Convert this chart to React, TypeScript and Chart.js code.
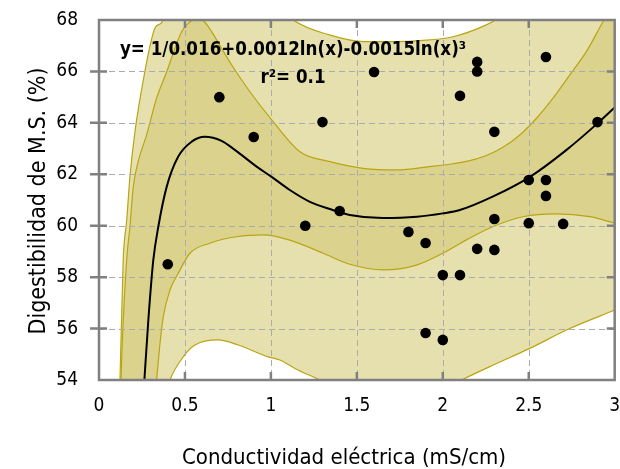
import React, { useEffect, useRef } from "react";
import { Chart, registerables } from "chart.js";

Chart.register(...registerables);

const FONT = "'Liberation Sans Narrow', 'DejaVu Sans Condensed', 'Open Sans', sans-serif";

// Observations: conductividad eléctrica (mS/cm) vs digestibilidad (%)
const pointsX = [0.4, 0.7, 0.9, 1.2, 1.3, 1.4, 1.6, 1.8, 1.9, 1.9, 2.0, 2.0, 2.1, 2.1, 2.2, 2.2, 2.2, 2.3, 2.3, 2.3, 2.5, 2.5, 2.6, 2.6, 2.6, 2.7, 2.9];
const pointsY = [58.5, 65.0, 63.45, 60.0, 64.03, 60.57, 65.98, 59.76, 59.33, 55.83, 55.56, 58.08, 58.08, 65.05, 66.37, 66.0, 59.1, 63.65, 60.26, 59.06, 61.78, 60.1, 66.56, 61.78, 61.16, 60.07, 64.03];

// Fitted curve
const curveX = [0.25, 0.264, 0.287, 0.316, 0.345, 0.394, 0.461, 0.539, 0.616, 0.713, 0.79, 0.917, 1.004, 1.11, 1.227, 1.343, 1.459, 1.65, 1.85, 2.0, 2.099, 2.29, 2.507, 2.72, 2.9, 3.0];
const curveY = [52.5, 54, 56.33, 58.67, 59.96, 61.52, 62.69, 63.27, 63.46, 63.3, 62.95, 62.3, 61.9, 61.39, 60.93, 60.65, 60.42, 60.3, 60.35, 60.48, 60.61, 61.13, 61.9, 62.95, 63.98, 64.6];

// Confidence band (inner)
const innerUpperX = [0.1, 0.128, 0.161, 0.18, 0.199, 0.228, 0.277, 0.335, 0.394, 0.442, 0.481, 0.519, 0.564, 0.61, 0.655, 0.713, 0.772, 0.878, 1.013, 1.169, 1.343, 1.537, 1.731, 1.924, 2.05, 2.15, 2.25, 2.35, 2.448, 2.545, 2.641, 2.738, 2.835, 2.932, 3.0];
const innerUpperY = [45, 54, 58.67, 59.96, 61.5, 62.5, 63.53, 64.96, 65.99, 66.9, 67.55, 67.87, 68.05, 67.95, 67.55, 66.9, 66.25, 65.21, 64.05, 62.88, 62.49, 62.23, 62.17, 62.3, 62.4, 62.52, 62.72, 63.05, 63.53, 64.18, 64.96, 65.86, 66.77, 67.93, 68.7];
const innerLowerX = [0.1, 0.2, 0.3, 0.335, 0.355, 0.374, 0.413, 0.461, 0.529, 0.645, 0.8, 0.955, 1.11, 1.304, 1.459, 1.653, 1.847, 2.0, 2.138, 2.29, 2.467, 2.66, 2.855, 3.0];
const innerLowerY = [30, 44, 52, 54, 55.43, 56.46, 57.5, 58.15, 58.93, 59.32, 59.57, 59.64, 59.44, 58.93, 58.5, 58.28, 58.47, 58.93, 59.45, 59.96, 60.35, 60.46, 60.35, 60.1];

// Prediction band (outer)
const outerUpperX = [0.1, 0.122, 0.141, 0.161, 0.18, 0.21, 0.267, 0.297, 0.326, 0.365, 0.4, 0.55, 0.75, 0.95, 1.13, 1.34, 1.54, 1.73, 1.87, 2.06, 2.25, 2.33, 2.6, 3.0];
const outerUpperY = [50, 54, 58.7, 60.2, 61.9, 63.7, 66.0, 67.0, 67.7, 67.9, 68.5, 70, 70, 69.2, 68.0, 67.42, 67.16, 67.16, 67.2, 67.35, 67.8, 68.1, 69.5, 72];
const outerLowerX = [0.1, 0.25, 0.35, 0.413, 0.49, 0.558, 0.694, 0.81, 0.984, 1.052, 1.14, 1.275, 1.5, 1.7, 1.9, 2.118, 2.3, 2.506, 2.738, 3.0];
const outerLowerY = [30, 47, 52.5, 54, 54.9, 55.36, 55.56, 55.36, 54.9, 54.78, 54.45, 54.03, 53.3, 53.0, 53.3, 54.03, 54.6, 55.23, 56.0, 56.72];

const xTicks = [0, 0.5, 1, 1.5, 2, 2.5, 3];
const yTicks = [54, 56, 58, 60, 62, 64, 66, 68];

const xTitle = "Conductividad eléctrica (mS/cm)";
const yTitle = "Digestibilidad de M.S. (%)";
const equation = "y= 1/0.016+0.0012ln(x)-0.0015ln(x)³";
const rSquared = "r²= 0.1";

const zip = (xs: number[], ys: number[]) => xs.map((x, i) => ({ x, y: ys[i] }));

export default function App() {
  const ref = useRef<HTMLCanvasElement>(null);
  useEffect(() => {
    const canvas = ref.current!;
    const LIGHT = "#e6e0ae";
    const DARK = "#dbd28e";
    const EDGE = "#b9a510";
    const FRAME = "#808080";

    const custom = {
      id: "custom",
      beforeDatasetDraw(chart: any, args: any) {
        if (args.index !== 1) return;
        const { ctx, chartArea: a, scales } = chart;
        ctx.save();
        ctx.strokeStyle = "#ababab";
        ctx.lineWidth = 1;
        ctx.setLineDash([6, 4]);
        xTicks.slice(1, -1).forEach((v) => {
          const px = Math.round(scales.x.getPixelForValue(v)) + 0.5;
          ctx.beginPath();
          ctx.moveTo(px, a.top);
          ctx.lineTo(px, a.bottom);
          ctx.stroke();
        });
        yTicks.slice(1, -1).forEach((v) => {
          const py = Math.round(scales.y.getPixelForValue(v)) + 0.5;
          ctx.beginPath();
          ctx.moveTo(a.left, py);
          ctx.lineTo(a.right, py);
          ctx.stroke();
        });
        ctx.restore();
      },
      afterDraw(chart: any) {
        const { ctx, chartArea: a, scales } = chart;
        ctx.save();
        ctx.strokeStyle = FRAME;
        ctx.lineWidth = 2.5;
        ctx.setLineDash([]);
        ctx.strokeRect(a.left, a.top, a.right - a.left, a.bottom - a.top);
        xTicks.slice(1, -1).forEach((v) => {
          const px = scales.x.getPixelForValue(v);
          ctx.beginPath();
          ctx.moveTo(px, a.bottom);
          ctx.lineTo(px, a.bottom - 8);
          ctx.moveTo(px, a.top);
          ctx.lineTo(px, a.top + 8);
          ctx.stroke();
        });
        yTicks.slice(1, -1).forEach((v) => {
          const py = scales.y.getPixelForValue(v);
          ctx.beginPath();
          ctx.moveTo(a.left - 9, py);
          ctx.lineTo(a.left + 8, py);
          ctx.moveTo(a.right, py);
          ctx.lineTo(a.right - 8, py);
          ctx.stroke();
        });
        // titles
        ctx.fillStyle = "#000";
        ctx.textAlign = "center";
        ctx.textBaseline = "middle";
        ctx.font = `22px ${FONT}`;
        ctx.fillText(xTitle, 344, 458);
        ctx.font = `23px ${FONT}`;
        ctx.save();
        ctx.translate(39, 201);
        ctx.rotate(-Math.PI / 2);
        ctx.fillText(yTitle, 0, 0);
        ctx.restore();
        // equation
        ctx.font = `bold 18.6px ${FONT}`;
        ctx.fillText(equation, 293, 50);
        ctx.fillText(rSquared, 293, 78);
        ctx.restore();
      },
    };

    const edgeCommon = {
      borderColor: EDGE,
      borderWidth: 1.2,
      pointRadius: 0,
      cubicInterpolationMode: "monotone" as const,
      clip: 0,
    };

    const chart = new Chart(canvas, {
      type: "line",
      data: {
        datasets: [
          {
            data: zip(pointsX, pointsY),
            showLine: false,
            pointRadius: 5.3,
            pointBackgroundColor: "#000",
            pointBorderColor: "#000",
            pointBorderWidth: 0,
            order: 0,
            clip: 0,
          },
          {
            data: zip(curveX, curveY),
            borderColor: "#000",
            borderWidth: 2,
            pointRadius: 0,
            cubicInterpolationMode: "monotone",
            fill: false,
            order: 1,
            clip: 0,
          },
          { ...edgeCommon, data: zip(innerUpperX, innerUpperY), fill: 3, backgroundColor: DARK, order: 3 },
          { ...edgeCommon, data: zip(innerLowerX, innerLowerY), fill: false, order: 2 },
          { ...edgeCommon, data: zip(outerUpperX, outerUpperY), fill: 5, backgroundColor: LIGHT, order: 5 },
          { ...edgeCommon, data: zip(outerLowerX, outerLowerY), fill: false, order: 4 },
        ] as any,
      },
      options: {
        animation: false,
        responsive: false,
        maintainAspectRatio: false,
        layout: { padding: { top: 20, right: 5, left: 0, bottom: 0 } },
        plugins: { legend: { display: false }, tooltip: { enabled: false }, title: { display: false } },
        scales: {
          x: {
            type: "linear",
            min: 0,
            max: 3,
            grid: { display: false },
            border: { display: false },
            ticks: {
              stepSize: 0.5,
              padding: 7,
              color: "#000",
              font: { family: FONT, size: 19 },
              maxRotation: 0,
              callback: (v: any) => String(v),
            },
            afterFit: (s: any) => {
              s.height = 89;
              s.paddingLeft = 0;
              s.paddingRight = 0;
            },
          },
          y: {
            type: "linear",
            min: 54,
            max: 68,
            grid: { display: false },
            border: { display: false },
            ticks: {
              stepSize: 2,
              padding: 13,
              color: "#000",
              font: { family: FONT, size: 19 },
              callback: (v: any) => String(v),
            },
            afterFit: (s: any) => {
              s.width = 99;
              s.paddingTop = 0;
              s.paddingBottom = 0;
            },
          },
        },
      },
      plugins: [custom],
    });
    return () => chart.destroy();
  }, []);
  return (
    <div style={{ position: "absolute", left: 0, top: 0, width: 620, height: 469 }}>
      <canvas ref={ref} width={620} height={469} style={{ display: "block" }} />
    </div>
  );
}
